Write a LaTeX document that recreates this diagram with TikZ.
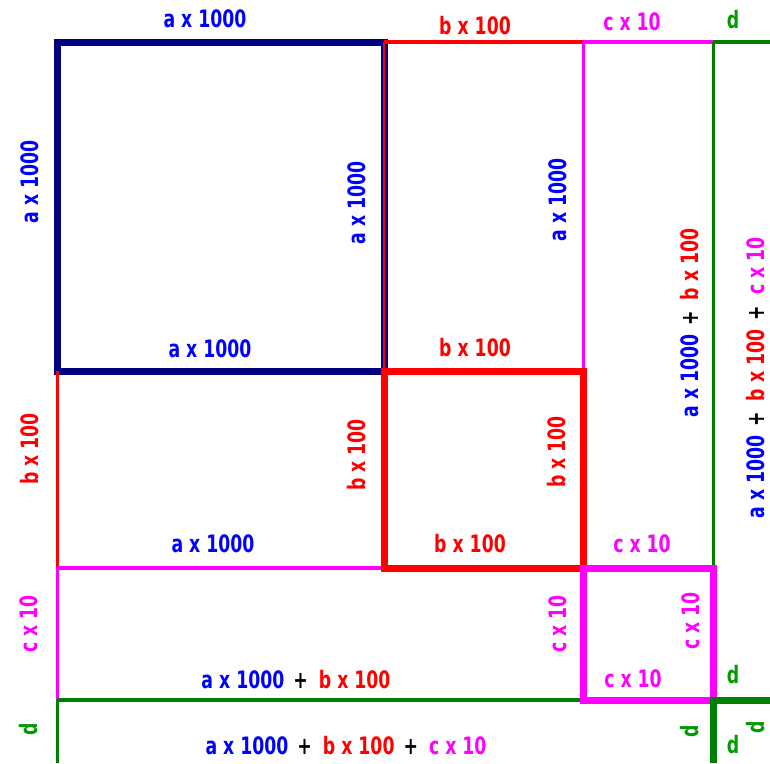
\documentclass[tikz,border=0pt]{standalone}
\usepackage{fontspec}
\newfontfamily\lblfont[FakeStretch=0.72]{DejaVu Sans}
\definecolor{navyc}{RGB}{0,0,128}
\definecolor{blu}{RGB}{0,0,255}
\definecolor{redc}{RGB}{255,0,0}
\definecolor{mag}{RGB}{255,0,255}
\definecolor{grn}{RGB}{0,128,0}
\definecolor{grt}{RGB}{0,155,0}
\newcommand{\Aa}{{\color{blu}a x 1000}}
\newcommand{\Bb}{{\color{redc}b x 100}}
\newcommand{\Cc}{{\color{mag}c x 10}}
\newcommand{\pl}{\hspace{9pt}+\hspace{11pt}}
\begin{document}
\begin{tikzpicture}[x=1pt,y=-1pt,
  lbl/.style={inner sep=0pt, font=\lblfont\bfseries\fontsize{24}{24}\selectfont},
  vlbl/.style={lbl, rotate=90},
  thinln/.style={line width=3pt},
  midln/.style={line width=4pt},
  thickln/.style={line width=7pt}]
\useasboundingbox (0,0) rectangle (770,763);
% corner coordinates
\coordinate (p1) at (57,42);
\coordinate (p2) at (384,42);
\coordinate (p3) at (583,42);
\coordinate (p4) at (713,42);
\coordinate (p5) at (770,42);
\coordinate (q1) at (57,371);
\coordinate (q2) at (384,371);
\coordinate (r1) at (57,568);
\coordinate (r2) at (384,568);
\coordinate (r3) at (583,568);
\coordinate (s1) at (57,700);
\coordinate (s3) at (583,700);
\coordinate (s4) at (713,700);
\coordinate (s5) at (770,700);
\coordinate (t1) at (57,763);
\coordinate (t4) at (713,763);
% navy square
\draw[thickln, navyc] (p1) rectangle (q2);
% red thin
\draw[midln, redc] (p2) -- (p3);
\draw[line width=2pt, redc] (p2) -- (q2);
\draw[thinln, redc] (q1) -- (r1);
% magenta thin
\draw[midln, mag] (p3) -- (p4);
\draw[thinln, mag] (p3) -- (r3);
\draw[midln, mag] (r1) -- (r3);
\draw[thinln, mag] (r1) -- (s1);
% green thin
\draw[midln, grn] (p4) -- (p5);
\draw[thinln, grn] (p4) -- (s4);
\draw[midln, grn] (s1) -- (s4);
\draw[thinln, grn] (s1) -- (t1);
% thick squares
\draw[thickln, redc] (q2) rectangle (r3);
\draw[thickln, mag] (r3) rectangle (s4);
\draw[thickln, grn] (s5) -- (s4) -- (t4);
% labels
\node[lbl, text=blu] (l1) at (205,19) {a x 1000};
\node[lbl, text=redc] (l2) at (475,26) {b x 100};
\node[lbl, text=mag] (l3) at (632,22) {c x 10};
\node[lbl, text=grt] (l4) at (733,20) {d};
\node[vlbl, text=blu] (l5) at (30,182) {a x 1000};
\node[vlbl, text=blu] (l6) at (357,203) {a x 1000};
\node[vlbl, text=blu] (l7) at (558,200) {a x 1000};
\node[lbl, text=blu] (l9) at (210,349) {a x 1000};
\node[lbl, text=redc] (l8) at (475,348) {b x 100};
\node[vlbl, text=redc] (l10) at (30,449) {b x 100};
\node[vlbl, text=redc] (l11) at (357,455) {b x 100};
\node[vlbl, text=redc] (l12) at (557,452) {b x 100};
\node[lbl, text=blu] (l13) at (213,544) {a x 1000};
\node[lbl, text=redc] (l14) at (470,544) {b x 100};
\node[lbl, text=mag] (l15) at (642,544) {c x 10};
\node[vlbl, text=mag] (l16) at (29,624) {c x 10};
\node[vlbl, text=mag] (l17) at (558,624) {c x 10};
\node[vlbl, text=mag] (l18) at (691,621) {c x 10};
\node[lbl, text=mag] (l19) at (633,679) {c x 10};
\node[lbl] (l20) at (296,680) {\Aa\pl\Bb};
\node[lbl] (l21) at (346,746) {\Aa\pl\Bb\pl\Cc};
\node[vlbl, text=grt] (l22) at (29,729) {d};
\node[lbl, text=grt] (l23) at (733,675) {d};
\node[vlbl, text=grt] (l24) at (690,731) {d};
\node[lbl, text=grt] (l25) at (733,745) {d};
\node[vlbl, text=grt] (l26) at (756,727) {d};
\node[vlbl] (l27) at (690,323) {\Aa\pl\Bb};
\node[vlbl] (l28) at (756,378) {\Aa\pl\Bb\pl\Cc};
\end{tikzpicture}
\end{document}
